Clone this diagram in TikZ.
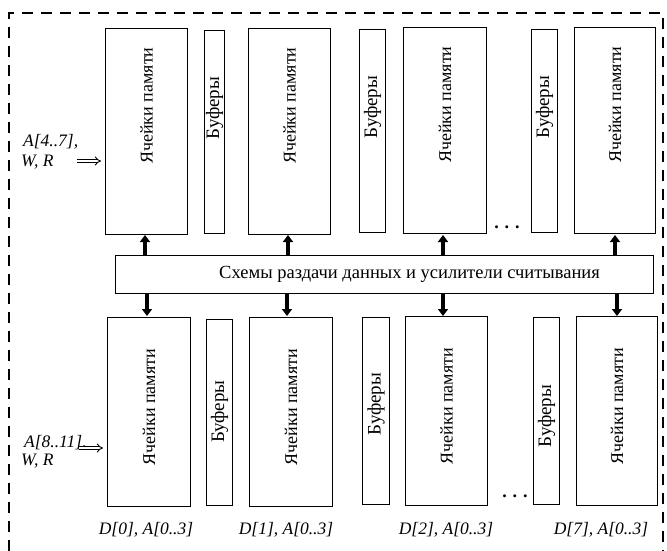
\documentclass[tikz,border=0pt]{standalone}
\usepackage{fontspec}
\setmainfont{Liberation Serif}
\usepackage{graphicx}
\usetikzlibrary{arrows.meta}
\tikzset{
  box/.style={draw, line width=1.1pt, inner sep=0pt, minimum width=#1, anchor=north west},
  celltext/.style={font=\fontsize{18}{18}\selectfont, inner sep=0pt},
  buftext/.style={font=\fontsize{19}{19}\selectfont, inner sep=0pt},
  uparr/.style={line width=3.2pt, -{Triangle[width=10pt,length=7pt]}},
  dblarr/.style={double, double distance=2.2pt, line width=0.9pt, -{Implies[]}},
  lbl/.style={font=\fontsize{17.5}{17.5}\selectfont\itshape, inner sep=0pt},
  dotsty/.style={font=\fontsize{18}{18}\selectfont\bfseries, inner sep=0pt},
  frame/.style={line width=1.1pt, dash pattern=on 11pt off 8pt}
}
\newcommand{\cellt}{\rotatebox{90}{Ячейки памяти}}
\newcommand{\buft}{\rotatebox{90}{Буферы}}
\begin{document}
\begin{tikzpicture}[x=1pt,y=-1pt]
\useasboundingbox (0,0) rectangle (667,551);
\draw[frame] (9,551) -- (9,13) -- (663,13) -- (663,551);
% top row
\node[box=82pt, minimum height=206pt] (t1) at (105,28) {};
\node[box=20pt, minimum height=203pt] (tb1) at (204,30) {};
\node[box=82pt, minimum height=206pt] (t2) at (248,28) {};
\node[box=26pt, minimum height=203pt] (tb2) at (359,29) {};
\node[box=83pt, minimum height=206pt] (t3) at (403,27) {};
\node[box=26pt, minimum height=203pt] (tb3) at (531,29) {};
\node[box=81pt, minimum height=206pt] (t4) at (574,27) {};
\foreach \n in {t1,t2,t3,t4}{
  \node[celltext] (\n txt) at ([yshift=26pt]\n.center) {\cellt};
}
\foreach \n in {tb1,tb2,tb3}{
  \node[buftext] (\n txt) at ([yshift=24pt]\n.center) {\buft};
}
\node[dotsty] (tdots) at (507,227) {. . .};
% middle
\node[box=538pt, minimum height=38pt] (mid) at (115,255) {};
\node[font=\fontsize{18.5}{18.5}\selectfont, inner sep=0pt] (midtxt) at ([xshift=25pt]mid.center) {Схемы раздачи данных и усилители считывания};
% bottom row
\node[box=83pt, minimum height=189pt] (b1) at (107,317) {};
\node[box=26pt, minimum height=186pt] (bb1) at (206,319) {};
\node[box=83pt, minimum height=189pt] (b2) at (249,317) {};
\node[box=27pt, minimum height=187pt] (bb2) at (362,317) {};
\node[box=82pt, minimum height=189pt] (b3) at (405,316) {};
\node[box=26pt, minimum height=187pt] (bb3) at (533,317) {};
\node[box=81pt, minimum height=189pt] (b4) at (576,316) {};
\foreach \n in {b1,b2,b3,b4}{
  \node[celltext] (\n txt) at ([yshift=5pt]\n.center) {\cellt};
}
\node[buftext] (bb1txt) at ([yshift=1pt]bb1.center) {\buft};
\node[buftext] (bb2txt) at ([yshift=7pt]bb2.center) {\buft};
\node[buftext] (bb3txt) at ([yshift=-5pt]bb3.center) {\buft};
\node[dotsty] (bdots) at (515,496) {. . .};
% arrows up
\foreach \c/\x in {t1/145,t2/288,t3/443,t4/615}{
  \draw[uparr] (\x,255) -- (\x,235);
}
\foreach \c/\x in {b1/147,b2/287,b3/443,b4/617}{
  \draw[uparr] (\x,293) -- (\x,316);
}
% left inputs
\node[lbl, anchor=west] (la1) at (23,142) {A[4..7],};
\node[lbl, anchor=west] (la2) at (21,162) {W, R};
\coordinate (ina) at (77,161);
\draw[dblarr] (ina) -- ([xshift=-4pt]ina -| t1.west);
\node[lbl, anchor=west] (lb1) at (24,443) {A[8..11],};
\node[lbl, anchor=west] (lb2) at (21,461) {W, R};
\coordinate (inb) at (79,448);
\draw[dblarr] (inb) -- ([xshift=-4pt]inb -| b1.west);
% bottom labels
\node[lbl] (d0) at (146,530) {D[0], A[0..3]};
\node[lbl] (d1) at (286,530) {D[1], A[0..3]};
\node[lbl] (d2) at (446,530) {D[2], A[0..3]};
\node[lbl] (d7) at (601,530) {D[7], A[0..3]};
\end{tikzpicture}
\end{document}
